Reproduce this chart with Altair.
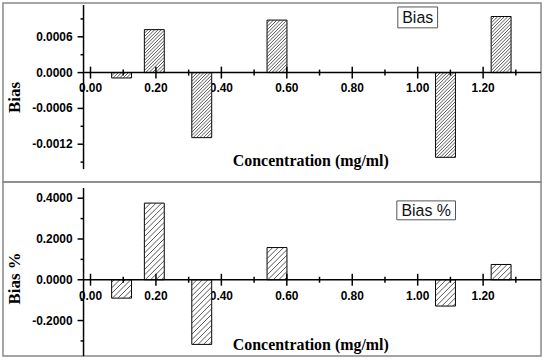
import altair as alt
import pandas as pd

# ---------------- data ----------------
concentration = [0.095, 0.195, 0.34, 0.57, 1.085, 1.255]
bias = [-0.00009, 0.00072, -0.00109, 0.00088, -0.00142, 0.00094]
bias_pct = [-0.090, 0.376, -0.317, 0.158, -0.129, 0.075]

x_major_ticks = [0.0, 0.2, 0.4, 0.6, 0.8, 1.0, 1.2]
x_minor_ticks = [0.1, 0.3, 0.5, 0.7, 0.9, 1.1, 1.3]
bias_major_ticks = [-0.0012, -0.0006, 0.0, 0.0006]
bias_minor_ticks = [-0.0015, -0.0009, -0.0003, 0.0003, 0.0009]
pct_major_ticks = [-0.2, 0.0, 0.2, 0.4]
pct_minor_ticks = [-0.3, -0.1, 0.1, 0.3]

y_titles = ["Bias", "Bias %"]
legend_labels = ["Bias", "Bias %"]
x_title = "Concentration (mg/ml)"

# ---------------- layout ----------------
W = 541
X_DOMAIN = [-0.2675, 1.377]
X_AXIS_AT = -0.0213
SANS = "Liberation Sans"
SERIF = "Liberation Serif"


def panel(values, ytitle, legend, H, y_domain, y_span, y_major, y_minor,
          hatch_step, box, ytitle_y, xtitle_y):
    xs = alt.Scale(domain=X_DOMAIN, nice=False, zero=False, padding=0)
    ys = alt.Scale(domain=y_domain, nice=False, zero=False, padding=0)
    kx = W / (X_DOMAIN[1] - X_DOMAIN[0])
    ky = H / (y_domain[1] - y_domain[0])

    def X(f):
        return alt.X(f, scale=xs, axis=None)

    def Y(f):
        return alt.Y(f, scale=ys, axis=None)

    df = pd.DataFrame({"conc": concentration, "value": values,
                       "zero": [0.0] * len(values)})

    bars = alt.Chart(df).mark_bar(
        size=20, fill="white", stroke="black", strokeWidth=1
    ).encode(x=X("conc:Q"), y=Y("value:Q"), y2="zero:Q")

    hatch = (
        alt.Chart(df)
        .transform_calculate(h=f"abs(datum.value)*{ky}")
        .transform_calculate(b="min(datum.value, 0)")
        .transform_calculate(cs=f"sequence(-20 + {hatch_step / 2}, datum.h, {hatch_step})")
        .transform_flatten(["cs"])
        .transform_calculate(p1="max(0, -datum.cs)")
        .transform_calculate(p2="min(20, datum.h - datum.cs)")
        .transform_filter("datum.p2 > datum.p1 + 0.3")
        .transform_calculate(hx1=f"datum.conc + (datum.p1 - 10)/{kx}")
        .transform_calculate(hx2=f"datum.conc + (datum.p2 - 10)/{kx}")
        .transform_calculate(hy1=f"datum.b + (datum.p1 + datum.cs)/{ky}")
        .transform_calculate(hy2=f"datum.b + (datum.p2 + datum.cs)/{ky}")
        .mark_rule(color="#2a2a2a", strokeWidth=0.8)
        .encode(x=X("hx1:Q"), x2="hx2:Q", y=Y("hy1:Q"), y2="hy2:Q")
    )

    zero_df = pd.DataFrame({"xa": [X_AXIS_AT], "xb": [X_DOMAIN[1]], "y": [0.0]})
    zero_line = alt.Chart(zero_df).mark_rule(color="black", strokeWidth=1.5).encode(
        x=X("xa:Q"), x2="xb:Q", y=Y("y:Q"))

    yline_df = pd.DataFrame({"x": [X_AXIS_AT], "ya": [y_span[0]], "yb": [y_span[1]]})
    y_line = alt.Chart(yline_df).mark_rule(color="black", strokeWidth=1.5).encode(
        x=X("x:Q"), y=Y("ya:Q"), y2="yb:Q")

    xmaj = pd.DataFrame({"t": x_major_ticks, "z": [0.0] * len(x_major_ticks),
                         "label": [f"{t:.2f}" for t in x_major_ticks]})
    xmin = pd.DataFrame({"t": x_minor_ticks, "z": [0.0] * len(x_minor_ticks)})
    xmaj_ticks = alt.Chart(xmaj).mark_tick(
        orient="vertical", size=12, thickness=1.5, color="black", opacity=1
    ).encode(x=X("t:Q"), y=Y("z:Q"))
    xmin_ticks = alt.Chart(xmin).mark_tick(
        orient="vertical", size=6, thickness=1.5, color="black", opacity=1
    ).encode(x=X("t:Q"), y=Y("z:Q"))
    x_labels = alt.Chart(xmaj).mark_text(
        font=SANS, fontWeight="bold", fontSize=12, color="black",
        align="center", baseline="top", dy=11
    ).encode(x=X("t:Q"), y=Y("z:Q"), text="label:N")

    ymaj = pd.DataFrame({"t": y_major, "x": [X_AXIS_AT] * len(y_major),
                         "label": [f"{t:.4f}" for t in y_major]})
    ymin = pd.DataFrame({"t": y_minor, "x": [X_AXIS_AT] * len(y_minor)})
    ymaj_ticks = alt.Chart(ymaj).mark_tick(
        orient="horizontal", size=6, thickness=1.5, color="black", opacity=1,
        xOffset=-3,
    ).encode(x=X("x:Q"), y=Y("t:Q"))
    ymin_ticks = alt.Chart(ymin).mark_tick(
        orient="horizontal", size=3, thickness=1.5, color="black", opacity=1,
        xOffset=-1.5,
    ).encode(x=X("x:Q"), y=Y("t:Q"))
    y_labels = alt.Chart(ymaj).mark_text(
        font=SANS, fontWeight="bold", fontSize=12, color="black",
        align="right", baseline="middle", dx=-11
    ).encode(x=X("x:Q"), y=Y("t:Q"), text="label:N")

    texts = pd.DataFrame({"ytitle": [ytitle], "xtitle": [x_title], "legend": [legend]})
    y_title = alt.Chart(texts).mark_text(
        font=SERIF, fontWeight="bold", fontSize=17, color="black",
        angle=270, align="center", baseline="alphabetic"
    ).encode(x=alt.value(17), y=alt.value(ytitle_y), text="ytitle:N")
    x_title_m = alt.Chart(texts).mark_text(
        font=SERIF, fontWeight="bold", fontSize=16, color="black",
        align="center", baseline="alphabetic"
    ).encode(x=alt.value(309.5), y=alt.value(xtitle_y), text="xtitle:N")

    box_rect = alt.Chart(texts).mark_rect(
        fill="white", stroke="#555555", strokeWidth=1
    ).encode(
        x=alt.value(box[0]), x2=alt.value(box[1]),
        y=alt.value(box[2]), y2=alt.value(box[3]),
    )
    box_text = alt.Chart(texts).mark_text(
        font=SANS, fontSize=16, color="#111111", align="center", baseline="middle"
    ).encode(
        text="legend:N",
        x=alt.value((box[0] + box[1]) / 2),
        y=alt.value((box[2] + box[3]) / 2 + 0.5),
    )

    return alt.layer(
        x_labels, y_labels, bars, hatch, zero_line, y_line,
        xmaj_ticks, xmin_ticks, ymaj_ticks, ymin_ticks,
        y_title, x_title_m, box_rect, box_text,
    ).properties(width=W, height=H)


top = panel(
    bias, y_titles[0], legend_labels[0], 180,
    [-0.0018333, 0.0011667], [-0.0016167, 0.0011333],
    bias_major_ticks, bias_minor_ticks, 3.4,
    (397, 437, 4, 25), 95, 163.5,
)
bottom = panel(
    bias_pct, y_titles[1], legend_labels[1], 175,
    [-0.37415, 0.47951], [-0.37415, 0.45024],
    pct_major_ticks, pct_minor_ticks, 5.5,
    (396, 455, 19, 38), 97, 168.5,
)

chart = (
    alt.vconcat(top, bottom, spacing=0, bounds="flush")
    .properties(padding={"left": 2, "top": 1, "right": 4, "bottom": 4})
    .configure(background="white")
    .configure_view(stroke="#888888", strokeWidth=1.5)
)

chart.save("out.html", embed_options={"renderer": "svg", "actions": False})
